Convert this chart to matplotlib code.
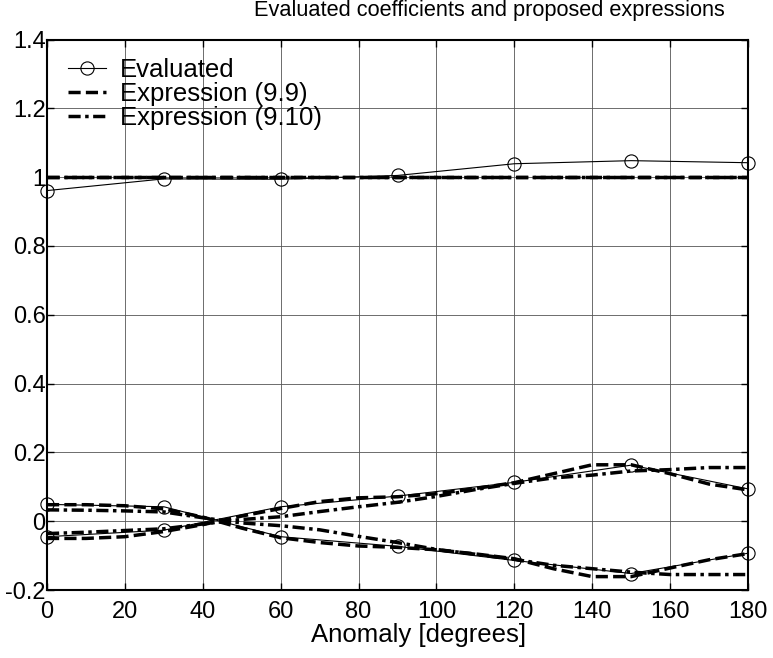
#!/usr/bin/env python3
"""Evaluated coefficients against the proposed expressions (9.9) and (9.10)."""
import matplotlib
matplotlib.use("Agg")
import matplotlib.pyplot as plt

plt.rcParams["font.family"] = ["Liberation Sans", "DejaVu Sans"]

# evaluated points (every 30 degrees)
anomaly_eval = [0, 30, 60, 90, 120, 150, 180]
eval_top = [0.961, 0.995, 0.994, 1.005, 1.039, 1.048, 1.042]
eval_a = [0.049, 0.042, -0.045, -0.073, -0.114, -0.152, -0.093]
eval_b = [-0.045, -0.026, 0.042, 0.073, 0.113, 0.163, 0.094]

# proposed expressions (every 10 degrees)
anomaly_expr = [0, 10, 20, 30, 40, 50, 60, 70, 80, 90, 100, 110, 120, 130, 140, 150, 160, 170, 180]
expr99_top = [1.0] * len(anomaly_expr)
expr99_a = [0.048, 0.048, 0.045, 0.036, 0.012, -0.02, -0.048, -0.062, -0.072, -0.076, -0.083,
            -0.095, -0.109, -0.138, -0.161, -0.161, -0.136, -0.112, -0.094]
expr99_b = [-0.05, -0.05, -0.045, -0.03, -0.01, 0.015, 0.037, 0.057, 0.068, 0.071, 0.08,
            0.095, 0.112, 0.138, 0.164, 0.164, 0.138, 0.108, 0.091]
expr910_top = [1.0] * len(anomaly_expr)
expr910_a = [0.033, 0.032, 0.03, 0.027, 0.01, -0.005, -0.013, -0.025, -0.044, -0.062, -0.082,
             -0.096, -0.111, -0.128, -0.138, -0.148, -0.155, -0.155, -0.155]
expr910_b = [-0.036, -0.032, -0.027, -0.022, -0.008, 0.005, 0.013, 0.028, 0.042, 0.055, 0.072,
             0.092, 0.11, 0.126, 0.134, 0.146, 0.15, 0.156, 0.156]

xticks = list(range(0, 181, 20))
yticks = [-0.2, 0, 0.2, 0.4, 0.6, 0.8, 1.0, 1.2, 1.4]
yticklabels = ["-0.2", "0", "0.2", "0.4", "0.6", "0.8", "1", "1.2", "1.4"]

fig = plt.figure(figsize=(7.73, 6.58), dpi=100)
ax = fig.add_axes([0.0608, 0.1033, 0.9069, 0.8366])

eval_style = dict(color="black", lw=0.8, marker="o", ms=9.5, mfc="none", mec="black",
                  mew=0.8, clip_on=False, zorder=4)
dash_style = dict(color="black", lw=2.5, dashes=(3.5, 1.5), zorder=3)
dashdot_style = dict(color="black", lw=2.5, dashes=(3.5, 1.3, 1.0, 1.3), zorder=2)

ax.plot(anomaly_eval, eval_top, label="Evaluated", **eval_style)
ax.plot(anomaly_eval, eval_a, **eval_style)
ax.plot(anomaly_eval, eval_b, **eval_style)

ax.plot(anomaly_expr, expr99_top, label="Expression (9.9)", **dash_style)
ax.plot(anomaly_expr, expr99_a, **dash_style)
ax.plot(anomaly_expr, expr99_b, **dash_style)

ax.plot(anomaly_expr, expr910_top, label="Expression (9.10)", **dashdot_style)
ax.plot(anomaly_expr, expr910_a, **dashdot_style)
ax.plot(anomaly_expr, expr910_b, **dashdot_style)

ax.set_xlim(0, 180)
ax.set_ylim(-0.2, 1.4)
ax.set_xticks(xticks)
ax.set_yticks(yticks)
ax.set_yticklabels(yticklabels)
ax.grid(True, color="#555555", lw=0.6)
ax.set_axisbelow(True)
for sp in ax.spines.values():
    sp.set_linewidth(1.5)
ax.tick_params(axis="both", direction="in", length=5, width=1.0, labelsize=17,
               top=True, right=True)
ax.tick_params(axis="y", pad=1)
ax.tick_params(axis="x", pad=8)

ax.set_xlabel("Anomaly [degrees]", fontsize=18.5)
ax.xaxis.set_label_coords(0.53, -0.06)

fig.text(725 / 773, 1 - 16 / 658, "Evaluated coefficients and proposed expressions",
         ha="right", va="baseline", fontsize=15.7)

leg = ax.legend(loc="upper left", bbox_to_anchor=(0.0193, 0.981), frameon=False,
                fontsize=18.5, handlelength=1.48, handletextpad=0.52, labelspacing=0.0,
                borderaxespad=0.0, borderpad=0.3)

fig.savefig("out.png", dpi=100)
plt.close(fig)
